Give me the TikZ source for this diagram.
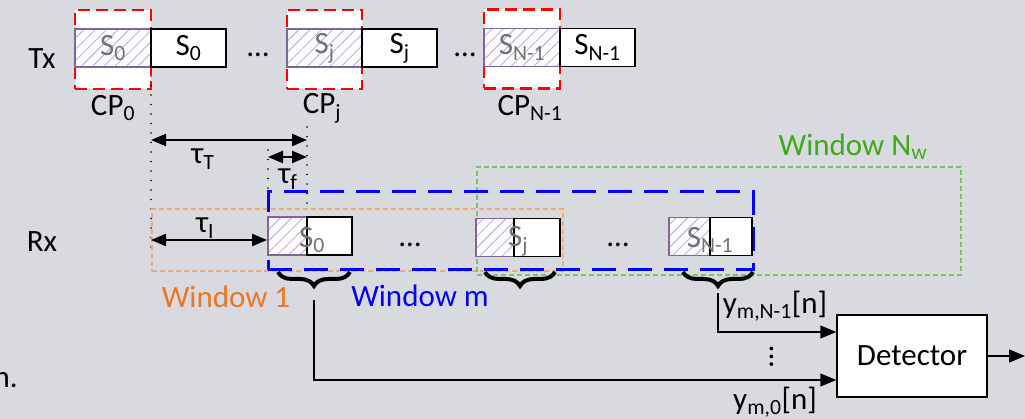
\documentclass[tikz,border=0pt]{standalone}
\usepackage{fontspec}
\setmainfont{Carlito}
\usetikzlibrary{patterns.meta,arrows.meta,decorations.pathreplacing,calc}
\definecolor{bg}{RGB}{217,218,223}
\definecolor{cpred}{RGB}{255,0,0}
\definecolor{hpurple}{RGB}{128,100,162}
\definecolor{hatchc}{RGB}{185,165,220}
\definecolor{txtgray}{RGB}{115,115,115}
\definecolor{orline}{RGB}{240,170,120}
\definecolor{ortext}{RGB}{237,118,30}
\definecolor{grline}{RGB}{125,195,95}
\definecolor{grtext}{RGB}{60,170,25}
\definecolor{bluew}{RGB}{0,0,255}
\begin{document}
\begin{tikzpicture}[x=1pt,y=-1pt,font=\fontsize{31}{36}\selectfont,
  cpbox/.style={draw=cpred,line width=2.5pt,dash pattern=on 12pt off 6pt,fill=white,minimum width=76pt,minimum height=79pt,inner sep=0},
  hbox/.style={preaction={fill=white},pattern={Lines[angle=45,distance=8pt,line width=0.8pt]},pattern color=hatchc,draw=hpurple,line width=1.8pt,minimum height=38pt,inner sep=0,text=txtgray},
  wbox/.style={draw=black,line width=1.5pt,fill=white,minimum height=38pt,inner sep=0},
  lbl/.style={inner sep=0},
  darr/.style={{Triangle[length=15pt,width=12pt]}-{Triangle[length=15pt,width=12pt]},line width=2.2pt},
  arr/.style={-{Triangle[length=16pt,width=13pt]},line width=1.5pt},
  dotline/.style={line width=1.8pt,line cap=round,dash pattern=on 0pt off 9.5pt},
  bracestyle/.style={decorate,decoration={brace,mirror,amplitude=14pt},line width=4pt},
  win1/.style={draw=orline,line width=1.4pt,dash pattern=on 5pt off 3pt,inner sep=0},
  winm/.style={draw=bluew,line width=3pt,dash pattern=on 24pt off 12pt,inner sep=0},
  winN/.style={draw=grline,line width=1.4pt,dash pattern=on 5pt off 3pt,inner sep=0}]
\fill[bg] (0,0) rectangle (1025,419);
\useasboundingbox (0,0) rectangle (1025,419);

% Tx row
\node[cpbox] (cp0) at (113,49.5) {};
\node[hbox,minimum width=76pt] (th0) at (113,48) {S\textsubscript{0}};
\node[wbox,minimum width=75pt] (ts0) at (188.5,48) {S\textsubscript{0}};
\node[lbl] (tdots1) at (258,55) {…};
\node[cpbox,minimum width=75pt] (cpj) at (324.5,49.5) {};
\node[hbox,minimum width=75pt] (thj) at (324.5,48) {S\textsubscript{j}};
\node[wbox,minimum width=75pt] (tsj) at (399.5,48) {S\textsubscript{j}};
\node[lbl] (tdots2) at (465,55) {…};
\node[cpbox] (cpN) at (522,49) {};
\node[hbox,minimum width=76pt] (thN) at (522,47.5) {S\textsubscript{N-1}};
\node[wbox,minimum width=75pt] (tsN) at (597.5,47.5) {S\textsubscript{N-1}};

\node[lbl] (tx) at (42,59) {Tx};
\node[lbl] (lcp0) at (113,108) {CP\textsubscript{0}};
\node[lbl] (lcpj) at (322,108) {CP\textsubscript{j}};
\node[lbl] (lcpN) at (530,108) {CP\textsubscript{N-1}};

% dotted guides
\coordinate (d1a) at (151,76); \coordinate (d1b) at (151,252);
\coordinate (d2a) at (307,127); \coordinate (d2b) at (307,208);
\coordinate (d3a) at (268,150); \coordinate (d3b) at (268,196);
\draw[dotline] (d1a) -- (d1b);
\draw[dotline] (d2a) -- (d2b);
\draw[dotline] (d3a) -- (d3b);

% tau arrows
\coordinate (tTa) at (151,140); \coordinate (tTb) at (307,140);
\coordinate (tfa) at (268,157); \coordinate (tfb) at (307,157);
\draw[darr] (tTa) -- (tTb);
\draw[darr] (tfa) -- (tfb);
\node[lbl] (ltT) at (203,159) {τ\textsubscript{T}};
\node[lbl] (ltf) at (288,179) {τ\textsubscript{f}};

% windows
\node[win1,minimum width=411pt,minimum height=62pt] (w1) at (357.5,240) {};
\node[winN,minimum width=484pt,minimum height=108pt] (wN) at (719,221) {};
\node[winm,minimum width=485pt,minimum height=78pt] (wm) at (510.5,231) {};

% Rx row
\node[lbl] (rx) at (42,242) {Rx};
\node[hbox,minimum width=39pt] (rh0) at (287.5,236) {};
\node[wbox,minimum width=45pt] (rs0) at (329.5,236) {};
\node[lbl,text=txtgray] (rt0) at (312,240) {S\textsubscript{0}};
\node[lbl] (rdots1) at (410,245) {…};
\node[hbox,minimum width=38pt] (rhj) at (495,237.5) {};
\node[wbox,minimum width=46pt] (rsj) at (537,237.5) {};
\node[lbl,text=txtgray] (rtj) at (518,241) {S\textsubscript{j}};
\node[lbl] (rdots2) at (618,245) {…};
\node[hbox,minimum width=41pt] (rhN) at (689.5,236.5) {};
\node[wbox,minimum width=42pt] (rsN) at (731,236.5) {};
\node[lbl,text=txtgray] (rtN) at (710,240) {S\textsubscript{N-1}};

\coordinate (tIa) at (151,240);
\draw[darr] (tIa) -- (tIa -| rh0.west);
\node[lbl] (ltI) at (205,228) {τ\textsubscript{I}};

% window labels
\node[lbl,text=ortext] (lw1) at (226,297) {Window 1};
\node[lbl,text=bluew] (lwm) at (420,296) {Window m};
\node[lbl,text=grtext] (lwN) at (853,147) {Window N\textsubscript{w}};

% braces
\coordinate (b1a) at (278,272); \coordinate (b1b) at (350,272);
\coordinate (b2a) at (485,272); \coordinate (b2b) at (555,272);
\coordinate (b3a) at (683,272); \coordinate (b3b) at (753,272);
\draw[bracestyle] (b1a) -- (b1b);
\draw[bracestyle] (b2a) -- (b2b);
\draw[bracestyle] (b3a) -- (b3b);

% detector
\node[draw,line width=1.5pt,fill=white,minimum width=150pt,minimum height=82pt,inner sep=0] (det) at (912,356) {Detector};
\coordinate (b1tip) at (314,300);
\coordinate (b3tip) at (718,293);
\coordinate (out) at (1025,356);
\draw[arr] (b3tip) |- ([yshift=24pt]det.west);
\draw[arr] (b1tip) |- ([yshift=-24pt]det.west);
\draw[arr] (det.east) -- (out);
\node[lbl] (ly1) at (775,306) {y\textsubscript{m,N-1}[n]};
\node[lbl] (lvd) at (772,357) {\rotatebox{90}{…}};
\node[lbl] (ly0) at (775,402) {y\textsubscript{m,0}[n]};

\node[lbl,anchor=east] (ntxt) at (18,380) {n.};
\end{tikzpicture}
\end{document}
